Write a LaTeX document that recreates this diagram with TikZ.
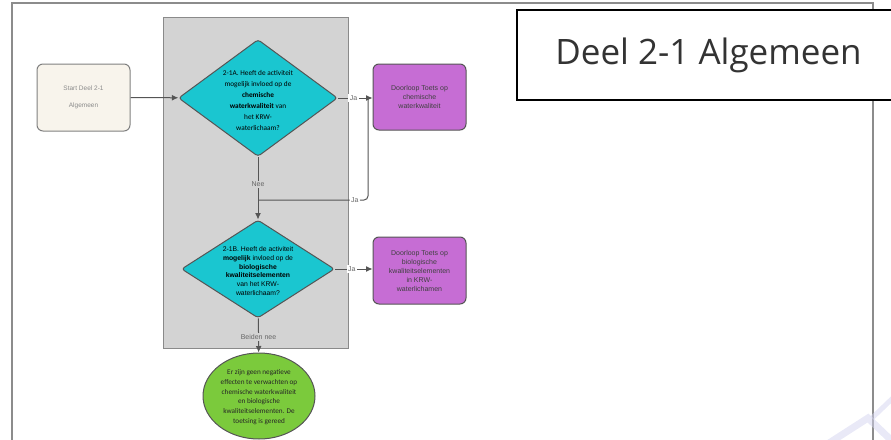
\documentclass[tikz,border=0pt]{standalone}
\usepackage{fontspec}
\setmainfont{Open Sans}
\newfontfamily\calfont{Carlito}
\newfontfamily\arialfont{Liberation Sans}
\usepackage{tikz}
\usetikzlibrary{arrows.meta}
\usetikzlibrary{shapes.geometric}
\definecolor{panelgray}{HTML}{D3D3D3}
\definecolor{panelline}{HTML}{8A8A8A}
\definecolor{framegray}{HTML}{8C8C8C}
\definecolor{linegray}{HTML}{555555}
\definecolor{qcyan}{HTML}{1AC6D0}
\definecolor{tpurple}{HTML}{C66DD4}
\definecolor{endgreen}{HTML}{7BCA3C}
\definecolor{startcream}{HTML}{F8F4EC}
\definecolor{marklav}{HTML}{D4D4F0}
\tikzset{
    flowarrow/.style={-{Latex[length=6.5pt, width=6pt]}, line width=1pt, draw=linegray},
    flowline/.style={line width=1pt, draw=linegray, rounded corners=4pt},
    question/.style={shape=diamond, draw=linegray, fill=qcyan, line width=1pt, inner sep=0pt, rounded corners=3pt},
    toetsbox/.style={shape=rectangle, rounded corners=6pt, draw=linegray, fill=tpurple, line width=1pt,
        minimum width=93pt, minimum height=66pt, align=center, text=black!75,
        font=\arialfont\fontsize{7}{9}\selectfont},
    flowlabel/.style={font=\arialfont\fontsize{7}{8}\selectfont, text=black!60, inner sep=1.5pt}
}
\newcommand{\qafont}{\calfont\fontsize{7.3}{11}\selectfont}
\newcommand{\qbfont}{\arialfont\fontsize{6.8}{8.8}\selectfont}

\begin{document}
\begin{tikzpicture}[x=1pt,y=-1pt]
    \useasboundingbox (0,0) rectangle (891,439);

    % buitenrand en watermerk
    \draw[framegray, line width=1.5pt] (12,445) -- (12,3) -- (873,3) -- (873,445);
    \draw[marklav, line width=7pt, opacity=0.5] (826,445) -- (868,418) -- (891,440);
    \draw[marklav, line width=5pt, opacity=0.5] (872,418) -- (895,396);

    % titel
    \node[draw=black, fill=white, line width=1.2pt, minimum width=383pt, minimum height=90pt,
        font=\fontsize{35}{40}\selectfont, text=black!80] (title) at (708.5,55) {Deel 2-1 Algemeen};

    % grijs vlak
    \draw[panelline, fill=panelgray, line width=1pt] (163,17) rectangle (348,348);

    \node[shape=rectangle, rounded corners=6pt, draw=black!50, fill=startcream, line width=1pt,
        minimum width=93pt, minimum height=67pt, align=center, text=black!45,
        font=\arialfont\fontsize{6.5}{17}\selectfont] (start) at (83.5,97.5) {Start Deel 2-1\\Algemeen};

    \node[question, minimum width=159pt, minimum height=117pt] (q1) at (258,98) {};
    \node[align=center, font=\qafont] (q1text) at (258,100) {2-1A. Heeft de activiteit\\mogelijk invloed op de\\
        \textbf{chemische}\\\textbf{waterkwaliteit} van\\het KRW-\\waterlichaam?};

    \node[question, minimum width=153pt, minimum height=98pt] (q2) at (258,269) {};
    \node[align=center, font=\qbfont] (q2text) at (258,271) {2-1B. Heeft de activiteit\\\textbf{mogelijk} invloed op de\\
        \textbf{biologische}\\\textbf{kwaliteitselementen}\\van het KRW-\\waterlichaam?};

    \node[toetsbox] (t1) at (419.5,97) {Doorloop Toets op\\chemische\\waterkwaliteit};
    \node[toetsbox, minimum height=67pt] (t2) at (419.5,270.5) {Doorloop Toets op\\biologische\\kwaliteitselementen\\in KRW-\\waterlichamen};

    \node[shape=ellipse, draw=linegray, fill=endgreen, line width=1pt,
        minimum width=112pt, minimum height=86pt] (end) at (259,396) {};
    \node[align=center, font=\calfont\fontsize{7.2}{9.7}\selectfont, text=black!85] (endtext) at (259,397)
        {Er zijn geen negatieve\\effecten te verwachten op\\chemische waterkwaliteit\\en biologische\\kwaliteitselementen. De\\toetsing is gereed};

    \path (start) edge[flowarrow] (q1);
    \path (q1.east) edge[flowarrow] node[flowlabel, fill=white, pos=0.45] {Ja} (t1.west |- q1.east);
    \path (q1) edge[flowarrow] node[flowlabel, fill=panelgray, pos=0.44] {Nee} (q2);
    \path (q2.east) edge[flowarrow] node[flowlabel, fill=white, pos=0.45] {Ja} (t2.west |- q2.east);
    \path (q2) edge[flowarrow] node[flowlabel, fill=panelgray, pos=0.54] {Beiden nee} (end);

    \coordinate (jasplit) at (368,98);
    \coordinate (jamerge) at (258,200);
    \draw [flowline](jasplit) |- (jamerge) node[flowlabel, fill=white, pos=0.56] {Ja};
\end{tikzpicture}
\end{document}
